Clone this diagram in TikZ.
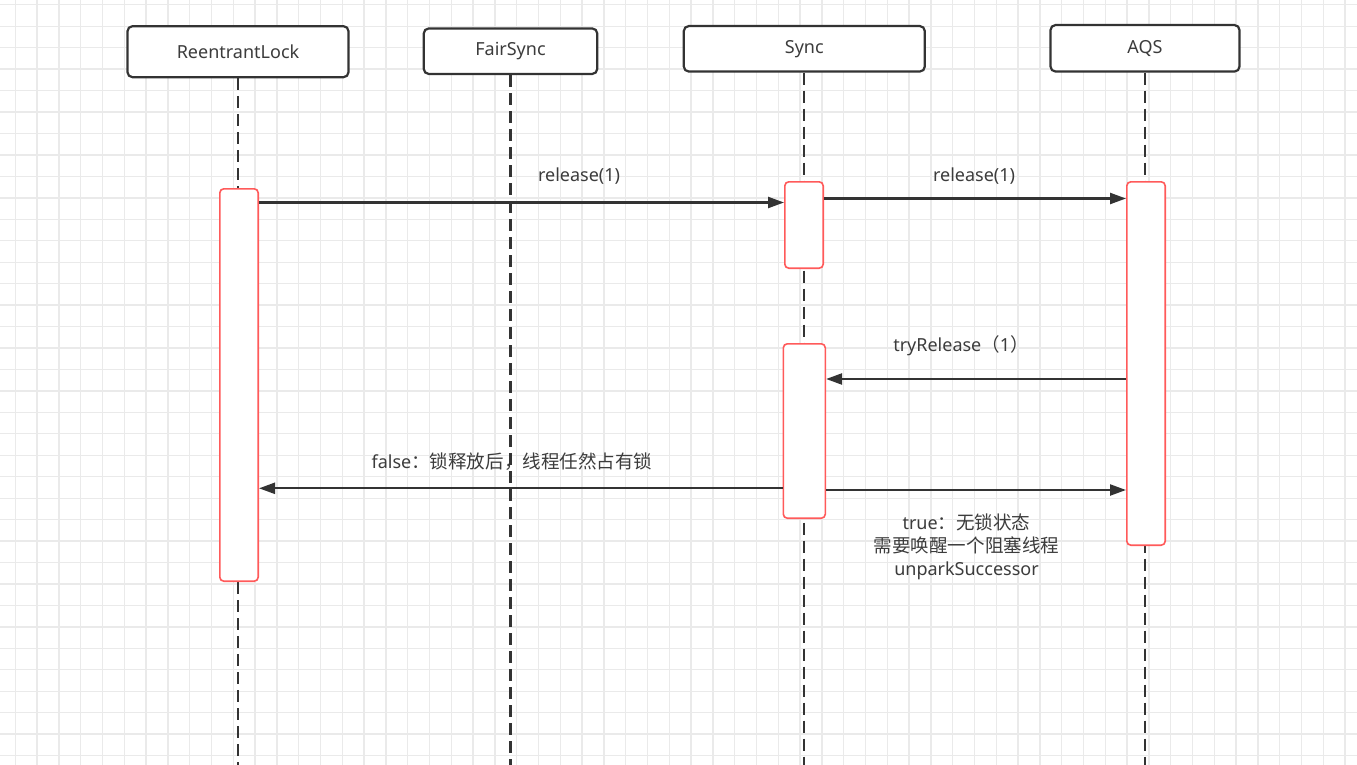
\documentclass[tikz,border=0pt]{standalone}
\usepackage{fontspec}
\setmainfont{Noto Sans}
\newfontfamily\cjk[Scale=1.03]{Noto Sans CJK SC}
\usetikzlibrary{arrows.meta}
\definecolor{ink}{HTML}{333333}
\definecolor{txt}{HTML}{3C3C3C}
\definecolor{act}{HTML}{FF5A5A}
\definecolor{gridc}{HTML}{EAEAEA}
\begin{document}
\begin{tikzpicture}[x=1pt,y=-1pt,
  gridline/.style={draw=gridc, line width=1.3pt},
  part/.style={draw=ink, line width=2.2pt, rounded corners=5pt, fill=white, text=txt, font=\fontsize{18}{20}\selectfont, inner sep=0pt},
  life/.style={draw=ink, line width=2.2pt, dash pattern=on 12pt off 6pt},
  actbox/.style={draw=act, line width=1.6pt, rounded corners=4pt, fill=white, inner sep=0pt},
  msg/.style={draw=ink, line width=2.3pt, -{Triangle[length=16pt,width=11pt]}},
  lbl/.style={text=txt, font=\fontsize{18}{23.3}\selectfont, inner sep=0pt}]
\useasboundingbox (0,0) rectangle (1357,765);
\fill[white] (0,0) rectangle (1357,765);
% grid
\foreach \i in {0,...,62} \draw[gridline] ({15.3+21.8*\i},0) -- ({15.3+21.8*\i},765);
\foreach \j in {0,...,36} \draw[gridline] (0,{4.8+21.45*\j}) -- (1357,{4.8+21.45*\j});
% participants
\node[part, minimum width=221pt, minimum height=51pt] (rl) at (238,51.7) {ReentrantLock};
\node[part, minimum width=173.5pt, minimum height=45.5pt] (fs) at (510.5,51.2) {FairSync};
\node[part, minimum width=241pt, minimum height=45.5pt] (sy) at (804.3,48.8) {Sync};
\node[part, minimum width=189pt, minimum height=46.5pt] (aqs) at (1145,48.3) {AQS};
% labels
\node[lbl] (l1) at (579,176) {release(1)};
\node[lbl] (l2) at (974,176) {release(1)};
\node[lbl] (l3) at (961,346) {tryRelease{\cjk （}1{\cjk ）}};
\node[lbl] (l4) at (512,462) {false{\cjk ：锁释放后，线程任然占有锁}};
\node[lbl, align=center] (l5) at (966.5,546.7) {true{\cjk ：无锁状态}\\{\cjk 需要唤醒一个阻塞线程}\\unparkSuccessor};
% lifelines
\coordinate (bot) at (0,765);
\draw[life] (rl.south) -- (rl.south |- bot);
\draw[life] (fs.south) -- (fs.south |- bot);
\draw[life] (sy.south) -- (sy.south |- bot);
\draw[life] (aqs.south) -- (aqs.south |- bot);
% activations
\node[actbox, minimum width=38.4pt, minimum height=392.4pt] (a1) at (239,385) {};
\node[actbox, minimum width=38.4pt, minimum height=86.4pt] (s1) at (804,225) {};
\node[actbox, minimum width=42pt, minimum height=174.4pt] (s2) at (804.3,431) {};
\node[actbox, minimum width=38.4pt, minimum height=363.4pt] (q1) at (1146,363.5) {};
% messages
\coordinate (y1) at (0,202.5);
\coordinate (y2) at (0,198.5);
\coordinate (y3) at (0,379);
\coordinate (y4) at (0,488.3);
\coordinate (y5) at (0,490);
\draw[msg] (a1.east |- y1) -- (s1.west |- y1);
\draw[msg] (s1.east |- y2) -- (q1.west |- y2);
\draw[msg] (q1.west |- y3) -- (s2.east |- y3);
\draw[msg] (s2.west |- y4) -- (a1.east |- y4);
\draw[msg] (s2.east |- y5) -- (q1.west |- y5);
\end{tikzpicture}
\end{document}
